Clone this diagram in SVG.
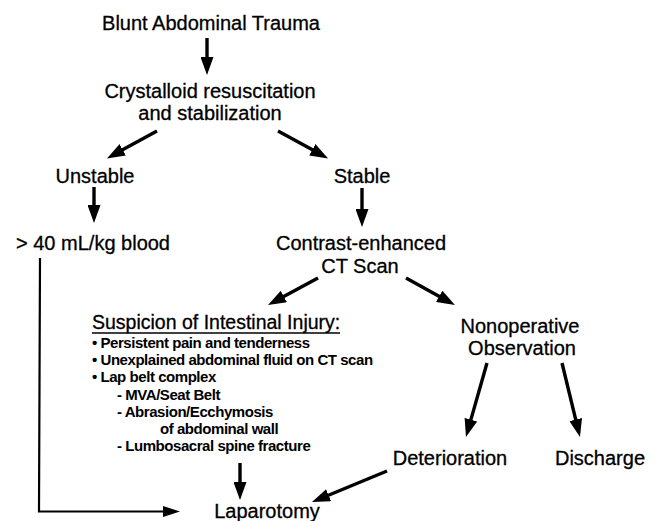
<svg xmlns="http://www.w3.org/2000/svg" width="657" height="521" viewBox="0 0 657 521">
<style>
.t{font-family:"Liberation Sans",Arial,sans-serif;font-size:20px;fill:#000;stroke:#000;stroke-width:0.3;text-anchor:middle}
.h{font-family:"Liberation Sans",Arial,sans-serif;font-size:19.5px;fill:#000;stroke:#000;stroke-width:0.3}
.b{font-family:"Liberation Sans",Arial,sans-serif;font-size:15px;font-weight:bold;letter-spacing:-0.45px;fill:#000}
.a{stroke:#000;stroke-width:3.4;fill:none;marker-end:url(#ah)}
.e{stroke:#000;stroke-width:2.2;fill:none;marker-end:url(#ahs)}
</style>
<defs>
<marker id="ah" markerUnits="userSpaceOnUse" markerWidth="18" markerHeight="13" refX="8" refY="6.5" orient="auto">
<path d="M0,0 L18,6.5 L0,13 z" fill="#000"/>
</marker>
<marker id="ahs" markerUnits="userSpaceOnUse" markerWidth="17" markerHeight="11" refX="7" refY="5.5" orient="auto">
<path d="M0,0 L17,5.5 L0,11 z" fill="#000"/>
</marker>
</defs>
<rect width="657" height="521" fill="#fff"/>
<g id="blunt"><text class="t" x="211" y="30">Blunt Abdominal Trauma</text></g>
<g id="crystalloid"><text class="t" x="210" y="98">Crystalloid resuscitation</text><text class="t" x="210" y="120">and stabilization</text></g>
<g id="unstable"><text class="t" x="95" y="183">Unstable</text></g>
<g id="stable"><text class="t" x="362" y="183">Stable</text></g>
<g id="blood"><text class="t" x="93" y="250">&gt; 40 mL/kg blood</text></g>
<g id="ct"><text class="t" x="361" y="250">Contrast-enhanced</text><text class="t" x="360" y="273">CT Scan</text></g>
<g id="suspicion">
<text class="h" x="92" y="329">Suspicion of Intestinal Injury:</text>
<line x1="92" y1="333" x2="340" y2="333" stroke="#000" stroke-width="1.5"/>
<text class="b" x="92" y="348">• Persistent pain and tenderness</text>
<text class="b" x="92" y="365">• Unexplained abdominal fluid on CT scan</text>
<text class="b" x="92" y="382">• Lap belt complex</text>
<text class="b" x="117" y="400">- MVA/Seat Belt</text>
<text class="b" x="117" y="417">- Abrasion/Ecchymosis</text>
<text class="b" x="160" y="434">of abdominal wall</text>
<text class="b" x="117" y="451">- Lumbosacral spine fracture</text>
</g>
<g id="nonoperative"><text class="t" x="520" y="333">Nonoperative</text><text class="t" x="522" y="355">Observation</text></g>
<g id="deterioration"><text class="t" x="450" y="465">Deterioration</text></g>
<g id="discharge"><text class="t" x="600" y="465">Discharge</text></g>
<g id="laparotomy"><text class="t" x="267" y="518">Laparotomy</text></g>
<g id="connectors">
<line class="a" x1="207" y1="38" x2="207" y2="65"/>
<line class="a" x1="157" y1="131" x2="115.7" y2="153.6"/>
<line class="a" x1="278" y1="131" x2="319.3" y2="153.6"/>
<line class="a" x1="94" y1="187" x2="94" y2="213"/>
<line class="a" x1="362" y1="188" x2="362" y2="217"/>
<line class="a" x1="318" y1="278" x2="276.8" y2="300.3"/>
<line class="a" x1="406" y1="278" x2="446.2" y2="300.2"/>
<line class="a" x1="487" y1="363" x2="468.7" y2="427.4"/>
<line class="a" x1="562" y1="363" x2="577.6" y2="427.3"/>
<line class="a" x1="240" y1="463" x2="240" y2="490"/>
<line class="a" x1="387" y1="471" x2="321.2" y2="498.2"/>
<polyline class="e" points="40,258 39,511.5 170,511.5"/>
</g>
</svg>
